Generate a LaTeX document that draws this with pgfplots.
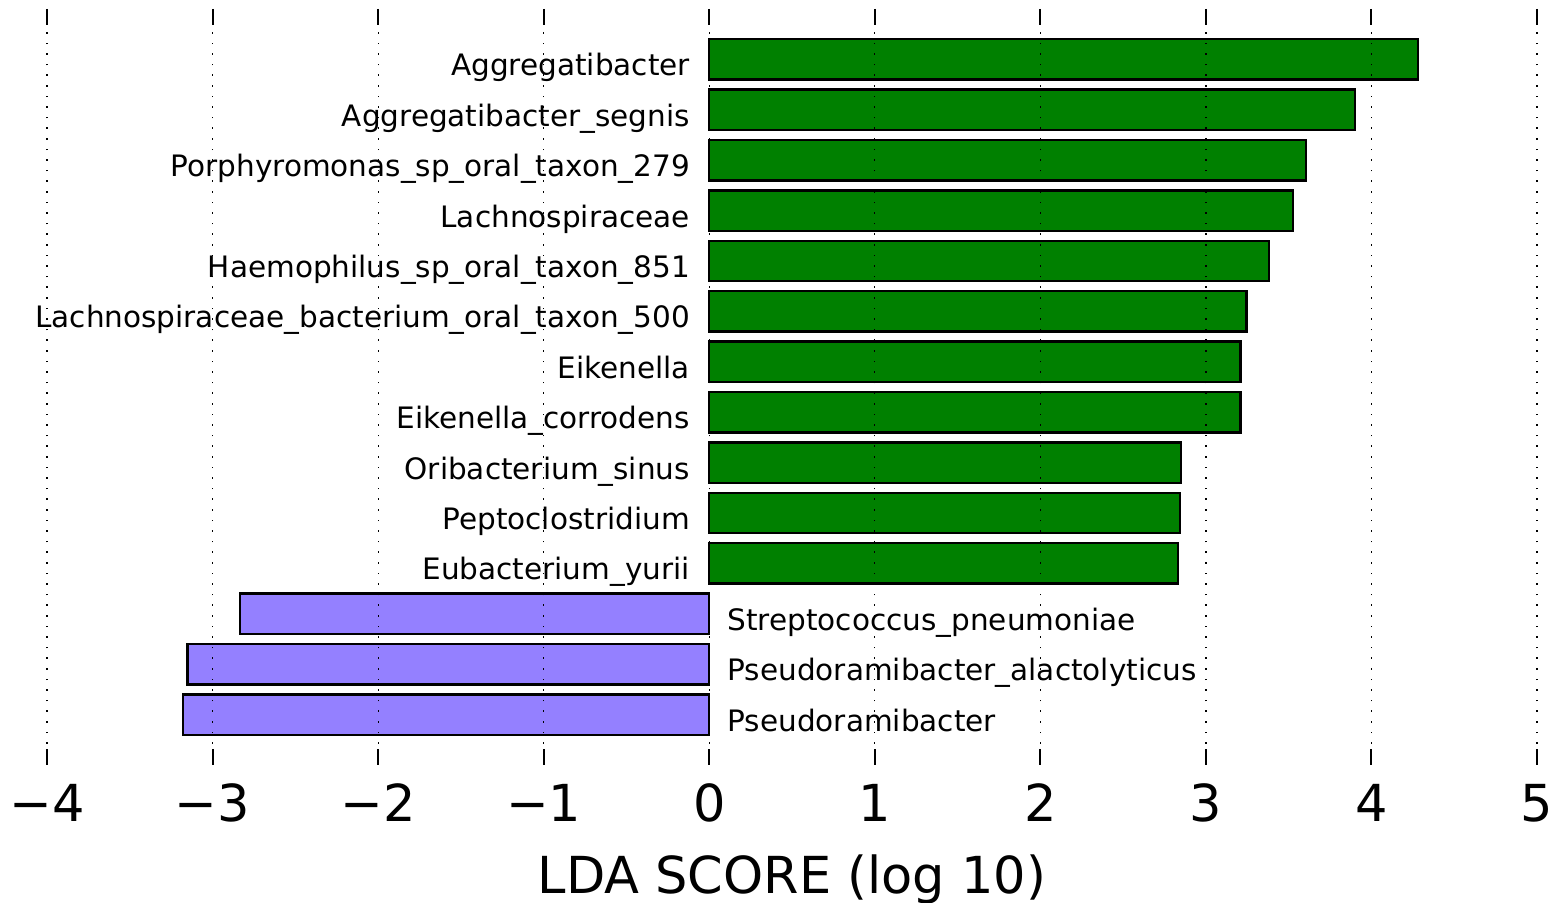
\documentclass[border=0pt]{standalone}
\usepackage{pgfplots}
\pgfplotsset{compat=1.18}
\usepackage{pgfplotstable}
\usepackage{fontspec}
\setmainfont{DejaVu Sans}
\definecolor{lgreen}{RGB}{0,128,0}
\definecolor{lpurple}{RGB}{148,128,255}

\pgfplotstableread{
y x label
13 4.28 Aggregatibacter
12 3.90 Aggregatibacter\_segnis
11 3.605 Porphyromonas\_sp\_oral\_taxon\_279
10 3.527 Lachnospiraceae
9 3.38 Haemophilus\_sp\_oral\_taxon\_851
8 3.245 Lachnospiraceae\_bacterium\_oral\_taxon\_500
7 3.21 Eikenella
6 3.21 Eikenella\_corrodens
5 2.85 Oribacterium\_sinus
4 2.845 Peptoclostridium
3 2.83 Eubacterium\_yurii
}\postab

\pgfplotstableread{
y x label
2 -2.835 Streptococcus\_pneumoniae
1 -3.15 Pseudoramibacter\_alactolyticus
0 -3.18 Pseudoramibacter
}\negtab

\begin{document}
\begin{tikzpicture}
\begin{axis}[
  at={(0,0)}, anchor=south west,
  scale only axis, width=745pt, height=378pt,
  xmin=-4, xmax=5, ymin=-1, ymax=14,
  axis line style={draw=none},
  xtick={-4,-3,-2,-1,0,1,2,3,4,5},
  xticklabels={−4,−3,−2,−1,0,1,2,3,4,5},
  ytick=\empty,
  xtick pos=both, xticklabel pos=lower,
  xtick align=inside, major tick length=8pt,
  every tick/.style={black, line width=1pt},
  xmajorgrids,
  grid style={black, line width=0.6pt, dash pattern=on 0.8pt off 4.5pt},
  axis on top,
  xticklabel style={font=\fontsize{25.5}{30}\selectfont, anchor=base, yshift=-28.5pt, inner sep=0pt},
  xlabel={LDA SCORE (log 10)},
  xlabel style={font=\fontsize{25.5}{30}\selectfont, at={(axis description cs:0.5,0)}, anchor=base, yshift=-64pt, inner sep=0pt},
  clip=false,
]
\addplot[xbar, bar width=0.8, bar shift=0pt, fill=lgreen, draw=black, line width=1.25pt] table[x=x, y=y] {\postab};
\addplot[xbar, bar width=0.8, bar shift=0pt, fill=lpurple, draw=black, line width=1.25pt] table[x=x, y=y] {\negtab};
\addplot[draw=none, nodes near coords, point meta=explicit symbolic,
  every node near coord/.append style={anchor=base east, xshift=-9.5pt, yshift=-8.3pt, inner sep=0pt, font=\fontsize{14.75}{17}\selectfont}]
  table[x expr=0, y=y, meta=label] {\postab};
\addplot[draw=none, nodes near coords, point meta=explicit symbolic,
  every node near coord/.append style={anchor=base west, xshift=9pt, yshift=-8.3pt, inner sep=0pt, font=\fontsize{14.75}{17}\selectfont}]
  table[x expr=0, y=y, meta=label] {\negtab};
\end{axis}
\pgfresetboundingbox
\path (-23.5pt,-69pt) rectangle (757.5pt,382.5pt);
\end{tikzpicture}
\end{document}
